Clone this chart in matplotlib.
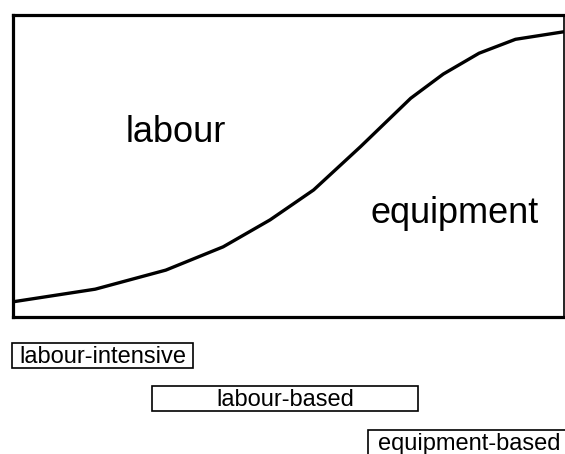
import matplotlib
matplotlib.use('Agg')
import matplotlib.pyplot as plt

plt.rcParams['font.family'] = ['Liberation Sans', 'DejaVu Sans']

# ── Data ─────────────────────────────────────────────────────────────────────
# curve separating labour share (above) from equipment share (below)
curve_x = [0, 15.0, 27.8, 38.2, 46.7, 54.6, 63.1, 72.2, 78.1, 84.6, 91.2, 100]
curve_y = [5.0, 9.2, 15.5, 23.2, 32.1, 42.0, 56.3, 72.3, 80.3, 87.2, 91.8, 94.3]

region_labels = ['labour', 'equipment']
region_x = [29.6, 80.1]
region_y = [57.9, 31.2]

# ranges along the same horizontal scale
range_labels = ['labour-intensive', 'labour-based', 'equipment-based']
range_start = [-0.1, 25.3, 64.5]
range_end = [32.7, 73.5, 101.1]

# ── Figure ───────────────────────────────────────────────────────────────────
W, H = 565, 454
fig = plt.figure(figsize=(W / 100, H / 100), dpi=100)

# main panel: px x 12.5..564, y 14.5..317
ax = fig.add_axes([12.5 / W, (H - 317) / H, (564 - 12.5) / W, (317 - 14.5) / H])
ax.plot(curve_x, curve_y, color='black', lw=2.4, solid_joinstyle='miter')
ax.set_xlim(0, 100)
ax.set_ylim(0, 100)
ax.set_xticks([])
ax.set_yticks([])
for side, sp in ax.spines.items():
    sp.set_linewidth(2.3)
ax.spines['right'].set_linewidth(1.2)
for lab, x, y in zip(region_labels, region_x, region_y):
    ax.text(x, y, lab, ha='center', va='baseline', fontsize=26)

# ranges panel below, same x scale; rows 43.5 px apart, first centred at 355 px
row_px = 43.5
top_px = 355 - row_px / 2
bot_px = top_px + 3 * row_px
ax2 = fig.add_axes([12.5 / W, (H - bot_px) / H, (564 - 12.5) / W, (bot_px - top_px) / H])
rows = list(range(len(range_labels)))
widths = [e - s for s, e in zip(range_start, range_end)]
ax2.barh(rows, widths, left=range_start, height=25 / row_px,
         color='white', edgecolor='black', linewidth=1.2, clip_on=False)
for r, lab, s, e in zip(rows, range_labels, range_start, range_end):
    ax2.text((s + e) / 2, r + 0.04, lab, ha='center', va='center', fontsize=17)
ax2.set_xlim(0, 100)
ax2.set_ylim(len(rows) - 0.5, -0.5)
ax2.axis('off')

fig.savefig('out.png', dpi=100)
